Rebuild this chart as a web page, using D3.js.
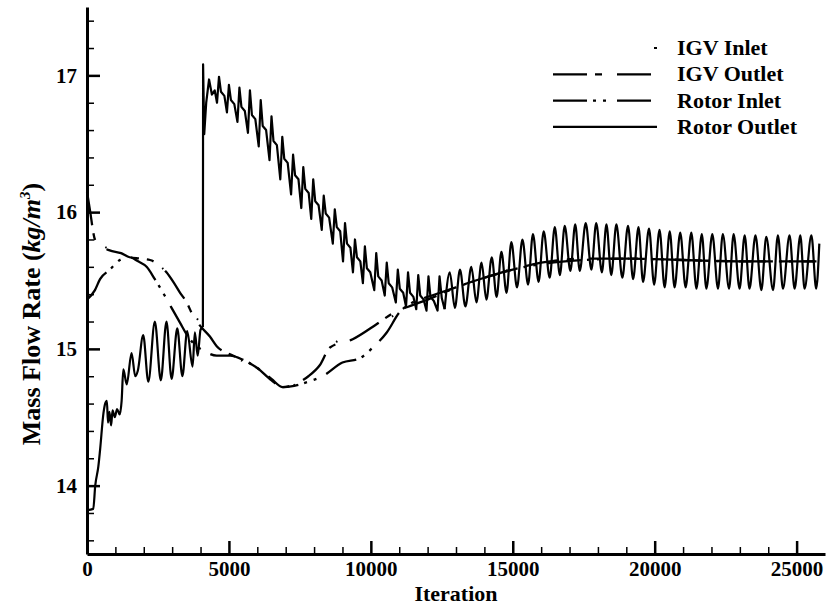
<!DOCTYPE html>
<html>
<head>
<meta charset="utf-8">
<script src="https://d3js.org/d3.v7.min.js"></script>
<style>
  body { margin: 0; background: #fff; }
  svg { display: block; font-family: "Liberation Serif", "Times New Roman", serif; font-weight: bold; }
</style>
</head>
<body>
<svg id="chart"></svg>
<script>
// [iteration, mass flow rate]
// rotor outlet: start-up part, before the restart at ~4080
const rotorOutletStart = [
  [0, 13.82], [220, 13.83], [290, 14.00], [400, 14.14], [460, 14.26], [580, 14.53], [640, 14.60], [700, 14.62],
  [740, 14.46], [790, 14.54], [850, 14.44], [900, 14.55], [980, 14.50], [1060, 14.56], [1150, 14.52], [1220, 14.62],
  [1280, 14.85], [1400, 14.74], [1570, 14.97], [1700, 14.80], [1790, 14.84], [1980, 15.10], [2160, 14.76], [2390, 15.20],
  [2600, 14.77], [2800, 15.20], [2980, 14.78], [3180, 15.15], [3360, 14.80], [3530, 15.13], [3720, 14.87], [3800, 15.12],
  [3900, 14.95], [4000, 15.14], [4083, 15.16]
];

// rotor outlet: jump and spiky decay
const rotorOutletDecay = [
  [4083, 15.16], [4090, 17.08], [4130, 16.57], [4200, 16.80], [4300, 16.97], [4400, 16.86], [4500, 16.89],
  [4580, 16.80], [4650, 16.99], [4720, 16.88], [4840, 16.85],
  [4930, 16.73], [5000, 16.93], [5070, 16.82], [5190, 16.79],
  [5300, 16.66], [5370, 16.91], [5440, 16.77], [5560, 16.74],
  [5670, 16.58], [5740, 16.89], [5810, 16.71], [5930, 16.68],
  [6050, 16.48], [6120, 16.82], [6190, 16.63], [6310, 16.60],
  [6430, 16.38], [6500, 16.70], [6570, 16.52], [6690, 16.49],
  [6810, 16.24], [6880, 16.55], [6950, 16.39], [7070, 16.36],
  [7190, 16.13], [7260, 16.42], [7330, 16.27], [7450, 16.24],
  [7550, 16.03], [7620, 16.33], [7690, 16.17], [7810, 16.14],
  [7900, 15.95], [7970, 16.24], [8040, 16.08], [8160, 16.05],
  [8270, 15.87], [8340, 16.12], [8410, 15.99], [8530, 15.96],
  [8660, 15.77], [8730, 16.02], [8800, 15.89], [8920, 15.86],
  [9020, 15.64], [9090, 15.92], [9160, 15.77], [9280, 15.74],
  [9370, 15.56], [9440, 15.80], [9510, 15.67], [9630, 15.64],
  [9720, 15.48], [9790, 15.75], [9860, 15.59], [9980, 15.56],
  [10120, 15.43], [10190, 15.70], [10260, 15.53], [10380, 15.50],
  [10490, 15.39], [10560, 15.63], [10630, 15.48], [10750, 15.45],
  [10880, 15.34], [10950, 15.58], [11020, 15.44], [11140, 15.41],
  [11240, 15.31], [11310, 15.56], [11380, 15.41], [11500, 15.38],
  [11600, 15.29], [11670, 15.54], [11740, 15.39], [11860, 15.36],
  [11960, 15.28], [12030, 15.53], [12100, 15.38], [12220, 15.35],
  [12350, 15.28], [12420, 15.53], [12500, 15.37], [12600, 15.29]
];

// rotor outlet: periodic part, peak / trough pairs
const rotorOutletSteady = [
  [12600, 15.29],
  [12780, 15.56], [12960, 15.30], [13140, 15.58], [13330, 15.31], [13540, 15.60], [13720, 15.34],
  [13900, 15.63], [14070, 15.36], [14260, 15.67], [14430, 15.38], [14600, 15.71], [14780, 15.41],
  [14950, 15.78], [15150, 15.45], [15340, 15.80], [15540, 15.47], [15710, 15.84], [15910, 15.49],
  [16090, 15.86], [16300, 15.52], [16480, 15.89], [16660, 15.54], [16830, 15.90], [17030, 15.57],
  [17200, 15.91], [17360, 15.57], [17570, 15.92], [17770, 15.58], [17940, 15.92], [18140, 15.56],
  [18300, 15.91], [18470, 15.54], [18650, 15.91], [18860, 15.52], [19060, 15.90], [19240, 15.51],
  [19430, 15.89], [19590, 15.49], [19800, 15.88], [19980, 15.47], [20170, 15.87], [20350, 15.45],
  [20530, 15.86], [20700, 15.45], [20900, 15.85], [21090, 15.45], [21290, 15.85], [21470, 15.44],
  [21660, 15.84], [21820, 15.44], [22030, 15.84], [22230, 15.44], [22400, 15.84], [22620, 15.44],
  [22780, 15.84], [22990, 15.44], [23170, 15.83], [23340, 15.44], [23550, 15.83], [23760, 15.43],
  [23930, 15.82], [24170, 15.43], [24340, 15.83], [24520, 15.44], [24750, 15.83], [24930, 15.44],
  [25130, 15.83], [25280, 15.44], [25520, 15.83], [25690, 15.44], [25800, 15.77]
];

const igvOutlet = [
  [0, 16.15], [100, 16.02], [280, 15.80], [500, 15.75], [800, 15.72], [1200, 15.70], [1500, 15.67],
  [1870, 15.66], [2220, 15.65], [2500, 15.62], [2800, 15.56], [3040, 15.49], [3280, 15.41], [3510, 15.34],
  [3740, 15.24], [3980, 15.17], [4330, 15.09], [4570, 15.02], [5040, 14.96], [5500, 14.92], [6000, 14.86],
  [6500, 14.77], [6900, 14.72], [7300, 14.74], [7800, 14.80], [8200, 14.88], [8560, 15.01], [9360, 15.07],
  [10200, 15.18], [10770, 15.26], [11470, 15.32], [12000, 15.36], [13000, 15.45], [14000, 15.52],
  [15000, 15.58], [16000, 15.63], [17500, 15.66], [19000, 15.66], [21000, 15.65], [23000, 15.64], [25700, 15.64]
];

const igvInlet = [
  [0, 16.15], [280, 15.80], [1200, 15.70], [2220, 15.65], [2800, 15.56], [3510, 15.34], [4330, 15.09],
  [5040, 14.96], [6000, 14.86], [6900, 14.72], [7800, 14.80], [8560, 15.01], [10200, 15.18], [12000, 15.36],
  [14000, 15.52], [16000, 15.63], [19000, 15.66], [23000, 15.64], [25700, 15.64]
];

const rotorInlet = [
  [0, 15.36], [280, 15.43], [460, 15.51], [810, 15.58], [1160, 15.65], [1500, 15.67], [1800, 15.64],
  [2100, 15.60], [2390, 15.51], [2680, 15.41], [2980, 15.30], [3280, 15.19], [3560, 15.09], [3860, 15.02],
  [4090, 14.99], [4570, 14.95], [5040, 14.95], [5500, 14.92], [6000, 14.86], [6500, 14.78], [6900, 14.72],
  [7300, 14.73], [7800, 14.76], [8300, 14.80], [9000, 14.90], [9600, 14.93], [10070, 15.01], [10560, 15.12],
  [11020, 15.27], [11470, 15.34], [12000, 15.38], [13000, 15.45], [14000, 15.52], [15000, 15.58],
  [16000, 15.62], [17500, 15.65], [19000, 15.66], [21000, 15.65], [23000, 15.64], [25700, 15.64]
];

const seriesNames = ["IGV Inlet", "IGV Outlet", "Rotor Inlet", "Rotor Outlet"];
const xTickLabels = [0, 5000, 10000, 15000, 20000, 25000];
const yTickLabels = [14, 15, 16, 17];

const width = 830, height = 605;
const svg = d3.select("#chart").attr("width", width).attr("height", height);

// scales
let x = d3.scaleLinear().domain([0, 26000]).range([87, 825]);
let y = d3.scaleLinear().domain([13.5, 17.5]).range([554, 7]);

// line styles per series
let styles = {
  "IGV Inlet": { dash: "1.5,60", width: 2 },
  "IGV Outlet": { dash: "34,8,7,15", width: 2.3 },
  "Rotor Inlet": { dash: "34,6,3,7,3,11", width: 2.3 },
  "Rotor Outlet": { dash: null, width: 2.2 }
};

let smooth = d3.line().x(d => x(d[0])).y(d => y(d[1])).curve(d3.curveMonotoneX);
let sharp = d3.line().x(d => x(d[0])).y(d => y(d[1]));

// curves
let g = svg.append("g").attr("fill", "none").attr("stroke", "#000").attr("stroke-linejoin", "round");
let paths = [
  { name: "IGV Inlet", data: igvInlet, gen: smooth },
  { name: "IGV Outlet", data: igvOutlet, gen: smooth },
  { name: "Rotor Inlet", data: rotorInlet, gen: smooth },
  { name: "Rotor Outlet", data: rotorOutletStart, gen: smooth },
  { name: "Rotor Outlet", data: rotorOutletDecay, gen: sharp },
  { name: "Rotor Outlet", data: rotorOutletSteady, gen: smooth }
];
paths.forEach(p => {
  g.append("path")
    .datum(p.data)
    .attr("stroke-width", styles[p.name].width)
    .attr("stroke-dasharray", styles[p.name].dash)
    .attr("d", p.gen);
});

// minor ticks (inside)
let yMinor = d3.range(13.6, 17.5, 0.2).filter(v => Math.abs(v - Math.round(v)) > 0.01);
let xMinor = d3.range(1000, 26000, 1000).filter(v => v % 5000 !== 0);

svg.append("g")
  .attr("transform", "translate(" + x(0) + ",0)")
  .call(d3.axisLeft(y).tickValues(yMinor).tickSizeInner(-7).tickSizeOuter(0).tickFormat(""))
  .call(a => a.select(".domain").remove())
  .selectAll("line").attr("stroke-width", 1.5);

svg.append("g")
  .attr("transform", "translate(0," + y(13.5) + ")")
  .call(d3.axisBottom(x).tickValues(xMinor).tickSizeInner(-7).tickSizeOuter(0).tickFormat(""))
  .call(a => a.select(".domain").remove())
  .selectAll("line").attr("stroke-width", 1.5);

// major ticks + labels
let fmt = d3.format("d");
let yAxis = svg.append("g")
  .attr("transform", "translate(" + x(0) + ",0)")
  .call(d3.axisLeft(y).tickValues(yTickLabels).tickFormat(fmt).tickSizeInner(-13).tickSizeOuter(0).tickPadding(10));
let xAxis = svg.append("g")
  .attr("transform", "translate(0," + y(13.5) + ")")
  .call(d3.axisBottom(x).tickValues(xTickLabels).tickFormat(fmt).tickSizeInner(-13).tickSizeOuter(0).tickPadding(7));

[yAxis, xAxis].forEach(ax => {
  ax.select(".domain").attr("stroke-width", 3);
  ax.selectAll(".tick line").attr("stroke-width", 2.5);
  ax.selectAll("text")
    .attr("font-size", 21)
    .attr("font-family", "Liberation Serif")
    .attr("font-weight", "bold")
    .attr("fill", "#000");
});

// axis titles
svg.append("text")
  .attr("x", (x(0) + x(26000)) / 2)
  .attr("y", 601)
  .attr("text-anchor", "middle")
  .attr("font-size", 22)
  .text("Iteration");

let yTitle = svg.append("text")
  .attr("transform", "translate(40,314) rotate(-90)")
  .attr("text-anchor", "middle")
  .attr("font-size", 26);
yTitle.append("tspan").text("Mass Flow Rate (");
yTitle.append("tspan").attr("font-style", "italic").text("kg/m");
yTitle.append("tspan").attr("font-style", "italic").attr("font-size", 15).attr("dy", -10).text("3");
yTitle.append("tspan").attr("dy", 10).text(")");

// legend
let legend = svg.append("g");
seriesNames.forEach((name, i) => {
  let cy = 48 + i * 26.3;
  let s = styles[name];
  legend.append("line")
    .attr("x1", name === "IGV Inlet" ? 654 : 553)
    .attr("x2", 657)
    .attr("y1", cy).attr("y2", cy)
    .attr("stroke", "#000")
    .attr("stroke-width", s.width)
    .attr("stroke-dasharray", name === "IGV Inlet" ? null : s.dash);
  legend.append("text")
    .attr("x", 677)
    .attr("y", cy + 7)
    .attr("font-size", 22)
    .text(name);
});
</script>
</body>
</html>
